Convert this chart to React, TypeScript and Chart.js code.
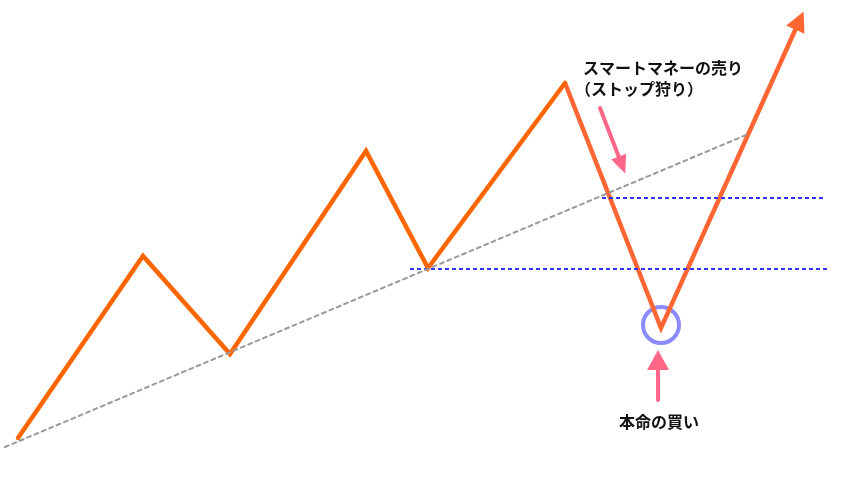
import React, { useEffect, useRef } from 'react';
import Chart from 'chart.js/auto';

// values (x to the right, y downwards, 850 x 480 space)
const rallyX = [18, 143, 230, 366, 428, 565];
const rallyY = [438, 256, 354, 151, 268, 83];
const dropX = [565, 661, 797];
const dropY = [83, 328, 26];
const trendX = [5, 746];
const trendY = [447, 135];
const upperLevelX = [602, 823];
const upperLevelY = [198, 198];
const lowerLevelX = [410, 827];
const lowerLevelY = [269, 269];
const buyPoint = { x: 661, y: 325 };
const sellArrowX = [600, 620];
const sellArrowY = [108, 160];
const buyArrowX = [658, 658];
const buyArrowY = [400, 366];
const sellLabels = ['スマートマネーの売り', '（ストップ狩り）'];
const buyLabel = '本命の買い';

const toPoints = (xs: number[], ys: number[]) => xs.map((x, i) => ({ x, y: ys[i] }));

const ORANGE = '#FF6600';
const CORAL = '#FF6633';
const PINK = '#FF6688';
const FONT = '"Noto Sans CJK JP", "Noto Sans", sans-serif';

const arrowPlugin = {
  id: 'arrows',
  afterDatasetsDraw(chart: any) {
    const { ctx, scales } = chart;
    const xs = scales.x;
    const ys = scales.y;
    const head = (xArr: number[], yArr: number[], color: string, len: number, half: number) => {
      const n = xArr.length;
      const x0 = xs.getPixelForValue(xArr[n - 2]);
      const y0 = ys.getPixelForValue(yArr[n - 2]);
      const x1 = xs.getPixelForValue(xArr[n - 1]);
      const y1 = ys.getPixelForValue(yArr[n - 1]);
      const a = Math.atan2(y1 - y0, x1 - x0);
      const tx = x1 + Math.cos(a) * len * 0.8;
      const ty = y1 + Math.sin(a) * len * 0.8;
      const bx = tx - Math.cos(a) * len;
      const by = ty - Math.sin(a) * len;
      ctx.save();
      ctx.fillStyle = color;
      ctx.beginPath();
      ctx.moveTo(tx, ty);
      ctx.lineTo(bx + Math.cos(a + Math.PI / 2) * half, by + Math.sin(a + Math.PI / 2) * half);
      ctx.lineTo(bx - Math.cos(a + Math.PI / 2) * half, by - Math.sin(a + Math.PI / 2) * half);
      ctx.closePath();
      ctx.fill();
      ctx.restore();
    };
    head(dropX, dropY, CORAL, 20, 10);
    head(sellArrowX, sellArrowY, PINK, 18, 8);
    head(buyArrowX, buyArrowY, PINK, 20, 11);

    ctx.save();
    ctx.fillStyle = '#111';
    ctx.font = `bold 16px ${FONT}`;
    ctx.textBaseline = 'middle';
    ctx.textAlign = 'left';
    ctx.fillText(sellLabels[0], xs.getPixelForValue(583), ys.getPixelForValue(68));
    ctx.fillText(sellLabels[1], xs.getPixelForValue(575), ys.getPixelForValue(89));
    ctx.textAlign = 'center';
    ctx.fillText(buyLabel, xs.getPixelForValue(659), ys.getPixelForValue(422));
    ctx.restore();
  },
};

const App: React.FC = () => {
  const canvasRef = useRef<HTMLCanvasElement | null>(null);
  const chartRef = useRef<Chart | null>(null);

  useEffect(() => {
    if (!canvasRef.current) return;
    if (chartRef.current) chartRef.current.destroy();

    const line = (data: any[], color: string, width: number, dash: number[] = []) => ({
      data,
      borderColor: color,
      borderWidth: width,
      borderDash: dash,
      pointRadius: 0,
      showLine: true,
      fill: false,
      clip: false as const,
      borderCapStyle: 'round' as const,
      borderJoinStyle: 'miter' as const,
    });

    chartRef.current = new Chart(canvasRef.current, {
      type: 'scatter',
      data: {
        datasets: [
          line(toPoints(trendX, trendY), '#999999', 2, [4, 4]),
          { ...line(toPoints(upperLevelX, upperLevelY), '#3333FF', 2, [4, 3]), borderCapStyle: 'butt' },
          { ...line(toPoints(lowerLevelX, lowerLevelY), '#3333FF', 2, [4, 3]), borderCapStyle: 'butt' },
          line(toPoints(rallyX, rallyY), ORANGE, 4.5),
          line(toPoints(dropX, dropY), CORAL, 4.5),
          line(toPoints(sellArrowX, sellArrowY), PINK, 4),
          line(toPoints(buyArrowX, buyArrowY), PINK, 4),
          {
            data: [buyPoint],
            showLine: false,
            clip: false,
            pointRadius: 18,
            pointBorderWidth: 4,
            pointBorderColor: 'rgba(110, 110, 255, 0.8)',
            pointBackgroundColor: 'rgba(0,0,0,0)',
          },
        ],
      },
      options: {
        animation: false,
        responsive: true,
        maintainAspectRatio: false,
        layout: { padding: 0, autoPadding: false },
        plugins: {
          legend: { display: false },
          tooltip: { enabled: false },
        },
        scales: {
          x: { type: 'linear', min: 0, max: 850, display: false },
          y: { type: 'linear', min: 0, max: 480, reverse: true, display: false },
        },
      },
      plugins: [arrowPlugin],
    });

    return () => {
      if (chartRef.current) {
        chartRef.current.destroy();
        chartRef.current = null;
      }
    };
  }, []);

  return (
    <div style={{ position: 'fixed', left: 0, top: 0, width: 850, height: 480, background: '#fff' }}>
      <canvas ref={canvasRef}></canvas>
    </div>
  );
};

export default App;
